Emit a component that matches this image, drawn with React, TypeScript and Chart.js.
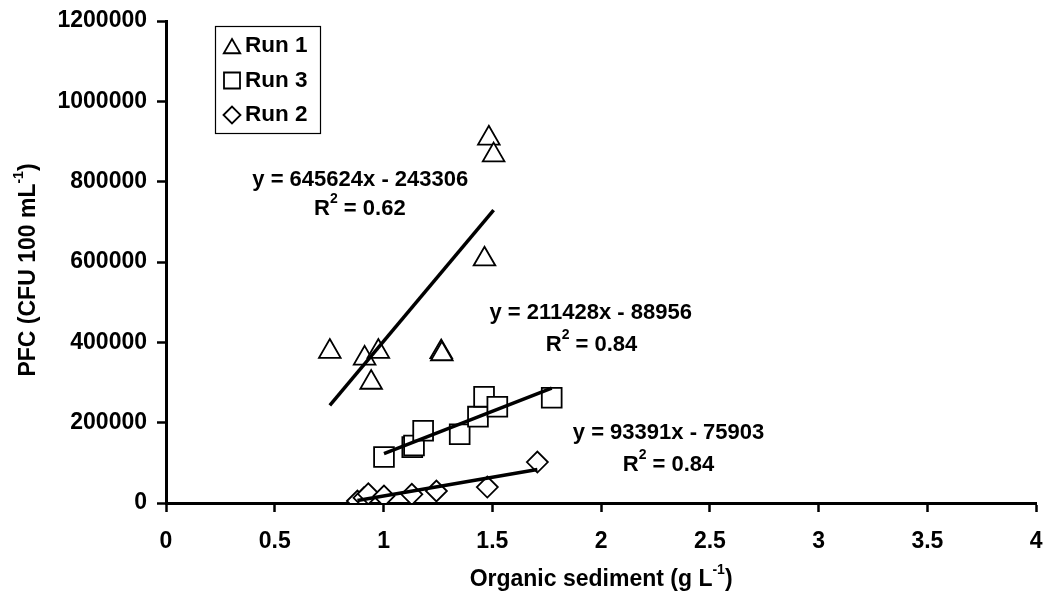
import React, { useEffect, useRef } from "react";
import { Chart, registerables } from "chart.js";

Chart.register(...registerables);

// ---- data ----
const run1X = [0.753, 0.913, 0.976, 0.943, 1.265, 1.268, 1.484, 1.506, 1.464];
const run1Y = [377000, 360000, 377000, 300000, 376000, 371000, 908000, 866000, 607000];

const run3X = [1.002, 1.132, 1.14, 1.182, 1.35, 1.434, 1.462, 1.523, 1.773];
const run3Y = [114500, 139000, 143000, 180000, 171000, 215000, 264600, 239700, 262000];

const run2X = [0.88, 0.91, 0.93, 1.002, 1.13, 1.243, 1.477, 1.707];
const run2Y = [5000, 13000, 23000, 17400, 21600, 29900, 39800, 102000];

const seriesNames = ["Run 1", "Run 3", "Run 2"];
const trendSlopes = [645624, 211428, 93391];
const trendIntercepts = [-243306, -88956, -75903];
const trendEquations = ["y = 645624x - 243306", "y = 211428x - 88956", "y = 93391x - 75903"];
const trendR2 = ["0.62", "0.84", "0.84"];

// label anchors (data coordinates)
const eqLabelX = [0.893, 1.952, 2.31];
const eqLabelY = [805000, 473000, 174000];
const r2LabelX = [0.891, 1.956, 2.31];
const r2LabelY = [733000, 394000, 95000];

const xMin = 0, xMax = 4, xStep = 0.5;
const yMin = 0, yMax = 1200000, yStep = 200000;

const xTitle = "Organic sediment (g L";
const yTitle = "PFC (CFU 100 mL";

const FONT = '"Liberation Sans", Arial, sans-serif';

type Part = { t: string; sup?: boolean };

function drawRich(ctx: CanvasRenderingContext2D, parts: Part[], cx: number, cy: number, size: number) {
  const big = `bold ${size}px ${FONT}`;
  const small = `bold ${Math.round(size * 0.62)}px ${FONT}`;
  let total = 0;
  const widths = parts.map((p) => {
    ctx.font = p.sup ? small : big;
    const w = ctx.measureText(p.t).width;
    total += w;
    return w;
  });
  let x = cx - total / 2;
  ctx.textAlign = "left";
  ctx.textBaseline = "middle";
  ctx.fillStyle = "#000";
  parts.forEach((p, i) => {
    ctx.font = p.sup ? small : big;
    ctx.fillText(p.t, x, p.sup ? cy - size * 0.42 : cy);
    x += widths[i];
  });
}

function drawMarker(ctx: CanvasRenderingContext2D, style: string, x: number, y: number, r: number) {
  ctx.beginPath();
  if (style === "triangle") {
    ctx.moveTo(x, y - r);
    ctx.lineTo(x + r * Math.sin((2 * Math.PI) / 3), y - r * Math.cos((2 * Math.PI) / 3));
    ctx.lineTo(x + r * Math.sin((4 * Math.PI) / 3), y - r * Math.cos((4 * Math.PI) / 3));
    ctx.closePath();
  } else if (style === "rect") {
    ctx.rect(x - r, y - r, 2 * r, 2 * r);
  } else {
    ctx.moveTo(x - r, y);
    ctx.lineTo(x, y - r);
    ctx.lineTo(x + r, y);
    ctx.lineTo(x, y + r);
    ctx.closePath();
  }
  ctx.fillStyle = "#fff";
  ctx.fill();
  ctx.lineWidth = 1.8;
  ctx.strokeStyle = "#000";
  ctx.stroke();
}

const overlayPlugin = {
  id: "overlay",
  afterDraw(chart: any) {
    const ctx: CanvasRenderingContext2D = chart.ctx;
    const xs = chart.scales.x;
    const ys = chart.scales.y;
    const area = chart.chartArea;
    ctx.save();

    // axis titles
    drawRich(ctx, [{ t: xTitle }, { t: "-1", sup: true }, { t: ")" }], (area.left + area.right) / 2, 580, 23);
    ctx.save();
    ctx.translate(29, (area.top + area.bottom) / 2 + 8);
    ctx.rotate(-Math.PI / 2);
    drawRich(ctx, [{ t: yTitle }, { t: "-1", sup: true }, { t: ")" }], 0, 0, 23);
    ctx.restore();

    // trendline labels
    for (let i = 0; i < trendEquations.length; i++) {
      drawRich(ctx, [{ t: trendEquations[i] }], xs.getPixelForValue(eqLabelX[i]), ys.getPixelForValue(eqLabelY[i]), 22);
      drawRich(
        ctx,
        [{ t: "R" }, { t: "2", sup: true }, { t: " = " + trendR2[i] }],
        xs.getPixelForValue(r2LabelX[i]),
        ys.getPixelForValue(r2LabelY[i]),
        22
      );
    }

    // legend box
    const lx = 215, ly = 26, lw = 105, lh = 107;
    ctx.lineWidth = 1.2;
    ctx.strokeStyle = "#000";
    ctx.fillStyle = "#fff";
    ctx.fillRect(lx, ly, lw, lh);
    ctx.strokeRect(lx + 0.5, ly + 0.5, lw, lh);
    const styles = ["triangle", "rect", "rectRot"];
    const radii = [9.5, 8, 8.5];
    const rowY = [46, 80.5, 115];
    for (let i = 0; i < seriesNames.length; i++) {
      const cy = rowY[i];
      drawMarker(ctx, styles[i], 232, i === 0 ? cy + 2.5 : cy, radii[i]);
      ctx.font = `bold 22.5px ${FONT}`;
      ctx.fillStyle = "#000";
      ctx.textAlign = "left";
      ctx.textBaseline = "middle";
      ctx.fillText(seriesNames[i], 245, cy);
    }
    ctx.restore();
  },
};

function trendPoints(xArr: number[], slope: number, intercept: number) {
  const lo = Math.min(...xArr);
  const hi = Math.max(...xArr);
  return [
    { x: lo, y: slope * lo + intercept },
    { x: hi, y: slope * hi + intercept },
  ];
}

function toPts(xArr: number[], yArr: number[]) {
  return xArr.map((x, i) => ({ x, y: yArr[i] }));
}

export default function App() {
  const ref = useRef<HTMLCanvasElement | null>(null);

  useEffect(() => {
    if (!ref.current) return;
    Chart.defaults.font.family = FONT;
    const xsArr = [run1X, run3X, run2X];
    const scatterBase = {
      backgroundColor: "#fff",
      borderColor: "#000",
      borderWidth: 1.8,
      showLine: false,
      order: 1,
    };
    const trendBase = {
      borderColor: "#000",
      borderWidth: 3.5,
      showLine: true,
      pointRadius: 0,
      fill: false,
      order: 0,
    };
    const chart = new Chart(ref.current, {
      type: "scatter",
      data: {
        datasets: [
          { ...scatterBase, label: seriesNames[0], data: toPts(run1X, run1Y), pointStyle: "triangle", pointRadius: 12.5 },
          { ...scatterBase, label: seriesNames[1], data: toPts(run3X, run3Y), pointStyle: "rect", pointRadius: 14 },
          { ...scatterBase, label: seriesNames[2], data: toPts(run2X, run2Y), pointStyle: "rectRot", pointRadius: 10.5 },
          ...trendSlopes.map((s, i) => ({
            ...trendBase,
            label: "trend " + seriesNames[i],
            data: trendPoints(xsArr[i], s, trendIntercepts[i]),
          })),
        ] as any,
      },
      options: {
        responsive: false,
        animation: false,
        layout: { padding: { left: 0, top: 21, right: 15, bottom: 0 } },
        plugins: { legend: { display: false }, tooltip: { enabled: false } },
        scales: {
          x: {
            type: "linear",
            min: xMin,
            max: xMax,
            afterFit: (s: any) => {
              s.height = 102;
              s.paddingLeft = 0;
              s.paddingRight = 0;
            },
            ticks: {
              stepSize: xStep,
              color: "#000",
              padding: 16,
              font: { size: 23, weight: "bold" },
              callback: (v: any) => String(v),
            },
            grid: { drawOnChartArea: false, tickLength: 9, tickColor: "#000", tickWidth: 2.5, color: "#000" },
            border: { display: true, color: "#000", width: 3 },
          },
          y: {
            type: "linear",
            min: yMin,
            max: yMax,
            afterFit: (s: any) => {
              s.width = 166;
              s.paddingTop = 0;
              s.paddingBottom = 0;
            },
            ticks: {
              stepSize: yStep,
              color: "#000",
              padding: 10,
              font: { size: 23, weight: "bold" },
              callback: (v: any) => String(v),
            },
            grid: { drawOnChartArea: false, tickLength: 9, tickColor: "#000", tickWidth: 2.5, color: "#000" },
            border: { display: true, color: "#000", width: 3 },
          },
        },
      } as any,
      plugins: [overlayPlugin],
    });
    return () => chart.destroy();
  }, []);

  return (
    <div style={{ position: "absolute", left: 0, top: 0, width: 1052, height: 605, background: "#fff" }}>
      <canvas ref={ref} width={1052} height={605} style={{ width: 1052, height: 605 }} />
    </div>
  );
}
